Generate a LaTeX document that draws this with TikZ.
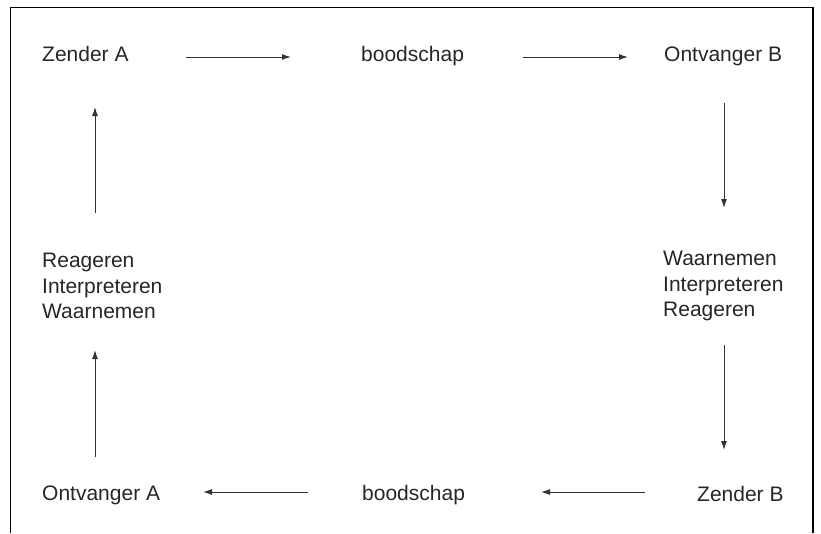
\documentclass[tikz,border=0pt]{standalone}
\usepackage{fontspec}
\setmainfont{Liberation Sans}
\usetikzlibrary{arrows.meta}
\tikzset{
  lbl/.style={inner sep=0pt, anchor=base west, font=\fontsize{21}{25.5}\selectfont, text=black!85},
  blk/.style={lbl, align=left},
  conn/.style={line width=1pt, draw=black!80, -{Latex[length=9pt,width=6pt]}},
  frame/.style={line width=1.3pt, draw=black}
}
\begin{document}
\begin{tikzpicture}[x=1pt,y=-1pt]
\useasboundingbox (0,0) rectangle (821,533);
\draw[frame] (10.5,533) -- (10.5,7.5) -- (813,7.5) -- (813,533);
% text nodes
\node[lbl] (za) at (42,61) {Zender A};
\node[lbl] (b1) at (361,61) {boodschap};
\node[lbl] (ob) at (664,61) {Ontvanger B};
\node[blk, anchor=north west] (rb) at (663,251) {Waarnemen\\Interpreteren\\Reageren};
\node[lbl] (zb) at (697,501) {Zender B};
\node[lbl] (b2) at (362,500) {boodschap};
\node[lbl] (oa) at (42,500) {Ontvanger A};
\node[blk, anchor=north west] (lb) at (42,253) {Reageren\\Interpreteren\\Waarnemen};
% arrow end points
\coordinate (a1s) at (186,57);  \coordinate (a1e) at (291,57);
\coordinate (a2s) at (523,57);  \coordinate (a2e) at (628,57);
\coordinate (a3s) at (724,103); \coordinate (a3e) at (724,208);
\coordinate (a4s) at (724,345); \coordinate (a4e) at (724,450);
\coordinate (a5s) at (645,492); \coordinate (a5e) at (541,492);
\coordinate (a6s) at (308,492); \coordinate (a6e) at (203,492);
\coordinate (a7s) at (95,457);  \coordinate (a7e) at (95,350);
\coordinate (a8s) at (95,213);  \coordinate (a8e) at (95,107);
\draw[conn] (a1s) -- (a1e);
\draw[conn] (a2s) -- (a2e);
\draw[conn] (a3s) -- (a3e);
\draw[conn] (a4s) -- (a4e);
\draw[conn] (a5s) -- (a5e);
\draw[conn] (a6s) -- (a6e);
\draw[conn] (a7s) -- (a7e);
\draw[conn] (a8s) -- (a8e);
\end{tikzpicture}
\end{document}
